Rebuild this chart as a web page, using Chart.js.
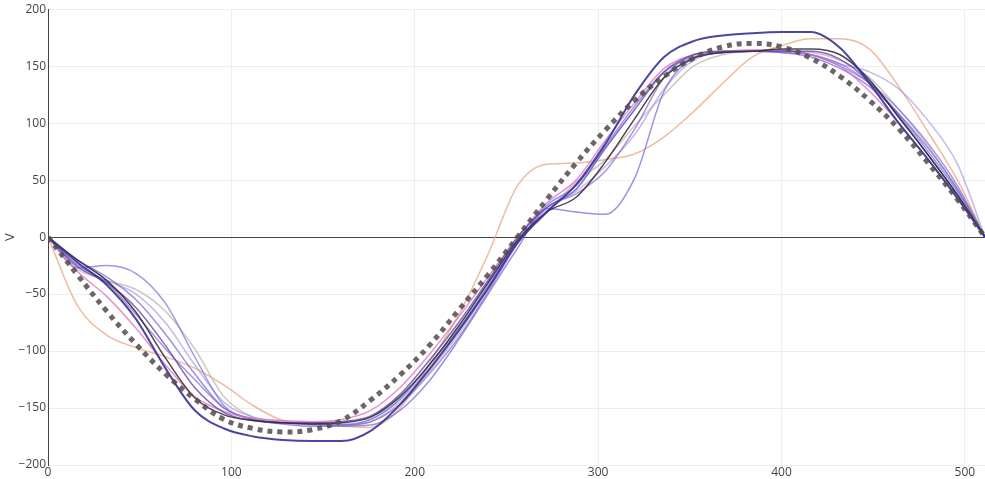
<!DOCTYPE html>
<html>
<head>
<meta charset="utf-8">
<script src="https://cdn.jsdelivr.net/npm/chart.js@4"></script>
<style>
  html, body { margin: 0; padding: 0; background: #fff; }
  #wrap { width: 985px; height: 479px; }
</style>
</head>
<body>
<div id="wrap"><canvas id="chart"></canvas></div>
<script>
// sample positions along x
const xs = [0, 16, 32, 48, 64, 80, 96, 112, 128, 144, 160, 176, 192, 208, 224, 240, 256,
  272, 288, 304, 320, 336, 352, 368, 384, 400, 416, 432, 448, 464, 480, 496, 511];

const yTicks = [-200, -150, -100, -50, 0, 50, 100, 150, 200];
const xTicks = [0, 100, 200, 300, 400, 500];

// reference (dotted)
const reference = [0, -33, -65, -94, -120, -142, -160, -168, -171, -169, -161, -143, -121, -95, -64, -33, 0,
  33, 65, 94, 120, 141, 157, 167, 170, 167, 157, 141, 120, 95, 65, 33, 0];

const deepIndigo = [0, -22, -42, -72, -115, -152, -168, -175, -178, -179, -179, -170, -147, -116, -82, -45, -5,
  22, 46, 82, 125, 158, 172, 177, 179, 180, 180, 166, 135, 100, 68, 34, 0];

const dark = [0, -20, -38, -66, -106, -141, -156, -161, -163, -164, -163, -158, -140, -112, -78, -40, -3,
  22, 35, 66, 104, 140, 157, 162, 163, 165, 165, 160, 138, 105, 72, 37, 0];

const periwinkle = [0, -27, -25, -32, -58, -105, -148, -160, -163, -164, -165, -160, -142, -112, -80, -42, -2,
  28, 45, 80, 115, 145, 158, 162, 163, 162, 160, 152, 135, 108, 75, 40, 0];

const orange = [0, -60, -86, -97, -105, -115, -130, -148, -161, -165, -166, -167, -150, -111, -68, -15, 45,
  64, 65, 68, 73, 88, 110, 135, 158, 168, 174, 174, 165, 132, 92, 50, 0];

const grey = [0, -28, -38, -46, -65, -98, -140, -158, -163, -164, -165, -162, -145, -118, -85, -45, -5,
  22, 48, 68, 98, 125, 150, 160, 163, 163, 162, 155, 140, 112, 80, 42, 0];

const blueDip = [0, -20, -35, -55, -85, -120, -150, -160, -164, -166, -166, -165, -152, -126, -90, -50, -10,
  25, 22, 20, 52, 128, 157, 162, 163, 162, 158, 148, 132, 108, 78, 42, 0];

const pink = [0, -30, -52, -80, -112, -140, -153, -159, -161, -162, -160, -152, -132, -103, -70, -35, 0,
  30, 50, 85, 118, 148, 160, 163, 164, 164, 160, 150, 128, 100, 68, 35, 0];

const purple = [0, -26, -40, -62, -95, -132, -154, -161, -163, -163, -162, -157, -138, -108, -75, -38, 0,
  26, 42, 78, 112, 145, 160, 163, 163, 163, 163, 156, 136, 106, 72, 37, 0];

const violet = [0, -24, -40, -68, -98, -125, -150, -160, -163, -164, -165, -162, -147, -120, -88, -48, -6,
  26, 38, 58, 95, 140, 160, 163, 164, 164, 160, 150, 135, 112, 82, 45, 0];

const lavender = [0, -25, -38, -50, -75, -112, -145, -158, -162, -163, -164, -160, -143, -115, -82, -44, -4,
  24, 40, 62, 90, 130, 155, 162, 163, 163, 160, 152, 145, 130, 102, 64, 0];

const pts = (ys) => xs.map((x, i) => ({ x: x, y: ys[i] }));

function series(label, ys, color, width) {
  return {
    label: label,
    data: pts(ys),
    borderColor: color,
    borderWidth: width,
    pointRadius: 0,
    fill: false,
    cubicInterpolationMode: 'monotone',
  };
}

const ctx = document.getElementById('chart').getContext('2d');
new Chart(ctx, {
  type: 'line',
  data: {
    datasets: [
      Object.assign(series('reference', reference, 'rgba(85,75,75,0.85)', 5), {
        borderDash: [5, 5],
        borderCapStyle: 'butt',
        cubicInterpolationMode: 'default',
        tension: 0.4,
      }),
      series('deep', deepIndigo, 'rgba(55,50,150,0.9)', 2),
      series('dark', dark, 'rgba(45,40,50,0.85)', 1.5),
      series('purple', purple, 'rgba(100,70,170,0.8)', 1.5),
      series('pink', pink, 'rgba(220,110,190,0.75)', 1.5),
      series('violet', violet, 'rgba(140,100,210,0.7)', 1.5),
      series('periwinkle', periwinkle, 'rgba(110,110,220,0.7)', 1.5),
      series('blueDip', blueDip, 'rgba(110,100,220,0.7)', 1.5),
      series('lavender', lavender, 'rgba(150,140,220,0.6)', 1.5),
      series('grey', grey, 'rgba(185,175,175,0.7)', 1.5),
      series('orange', orange, 'rgba(230,165,125,0.75)', 1.5),
    ]
  },
  options: {
    responsive: true,
    maintainAspectRatio: false,
    animation: false,
    layout: { padding: { top: 5, right: 0, left: 0, bottom: 0 } },
    plugins: {
      legend: { display: false },
      tooltip: { enabled: false },
    },
    scales: {
      x: {
        type: 'linear',
        min: 0,
        max: 511,
        afterBuildTicks: (scale) => { scale.ticks = xTicks.map(v => ({ value: v })); },
        afterFit: (scale) => { scale.height = 14; },
        ticks: {
          color: '#444',
          font: { family: 'Open Sans', size: 12 },
          padding: 0,
          maxRotation: 0,
        },
        grid: { color: '#eeeeee', drawTicks: false },
        border: { color: '#eeeeee' },
      },
      y: {
        min: -200,
        max: 200,
        afterBuildTicks: (scale) => { scale.ticks = yTicks.map(v => ({ value: v })); },
        afterFit: (scale) => { scale.width = 48; },
        ticks: {
          color: '#444',
          font: { family: 'Open Sans', size: 12 },
          padding: 2,
          callback: (v) => String(v).replace('-', '\u2212'),
        },
        title: {
          display: true,
          text: 'V',
          color: '#444',
          font: { family: 'Open Sans', size: 13 },
          padding: { top: 2, bottom: 0 },
        },
        grid: {
          color: (c) => (c.tick && c.tick.value === 0 ? '#444444' : '#eeeeee'),
          drawTicks: false,
        },
        border: { color: '#444444' },
      }
    }
  }
});
</script>
</body>
</html>
